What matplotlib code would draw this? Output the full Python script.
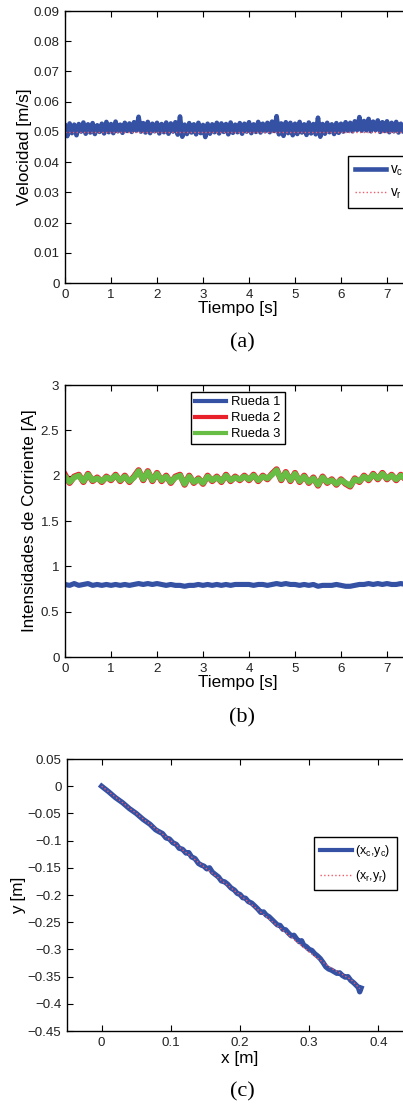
import matplotlib
matplotlib.use("Agg")
import matplotlib.pyplot as plt

plt.rcParams['font.family'] = ['Liberation Sans', 'DejaVu Sans']
plt.rcParams['mathtext.fontset'] = 'custom'
plt.rcParams['mathtext.rm'] = 'Liberation Sans'
plt.rcParams['mathtext.it'] = 'Liberation Sans'

# ---- (a) velocity ----
t_v = [i * 0.05 for i in range(151)]
v_c = [
    0.0521, 0.0486, 0.0528, 0.0496, 0.0524, 0.0489, 0.0526, 0.0501, 0.0531, 0.0494,
    0.0525, 0.0498, 0.0529, 0.0493, 0.0522, 0.0500, 0.0527, 0.0495, 0.0533, 0.0499,
    0.0526, 0.0496, 0.0534, 0.0502, 0.0524, 0.0497, 0.0530, 0.0503, 0.0528, 0.0500,
    0.0532, 0.0504, 0.0550, 0.0501, 0.0529, 0.0498, 0.0533, 0.0496, 0.0527, 0.0502,
    0.0530, 0.0495, 0.0526, 0.0499, 0.0531, 0.0494, 0.0528, 0.0501, 0.0532, 0.0491,
    0.0551, 0.0484, 0.0524, 0.0493, 0.0529, 0.0498, 0.0525, 0.0492, 0.0530, 0.0496,
    0.0523, 0.0483, 0.0527, 0.0494, 0.0525, 0.0499, 0.0530, 0.0495, 0.0528, 0.0500,
    0.0526, 0.0492, 0.0531, 0.0497, 0.0524, 0.0499, 0.0529, 0.0494, 0.0527, 0.0501,
    0.0532, 0.0496, 0.0525, 0.0500, 0.0533, 0.0498, 0.0527, 0.0502, 0.0530, 0.0499,
    0.0534, 0.0503, 0.0552, 0.0492, 0.0528, 0.0487, 0.0532, 0.0496, 0.0530, 0.0489,
    0.0527, 0.0493, 0.0533, 0.0498, 0.0525, 0.0490, 0.0531, 0.0495, 0.0526, 0.0492,
    0.0547, 0.0484, 0.0526, 0.0494, 0.0530, 0.0499, 0.0525, 0.0493, 0.0529, 0.0497,
    0.0527, 0.0501, 0.0532, 0.0504, 0.0530, 0.0502, 0.0535, 0.0506, 0.0549, 0.0504,
    0.0536, 0.0505, 0.0543, 0.0502, 0.0534, 0.0506, 0.0538, 0.0500, 0.0532, 0.0503,
    0.0535, 0.0499, 0.0530, 0.0502, 0.0533, 0.0498, 0.0527, 0.0501, 0.0531, 0.0496,
    0.0524,
]
t_ref = [0.0, 7.5]
v_r = [0.05, 0.05]

# ---- (b) wheel currents ----
t_i = [i * 0.1 for i in range(76)]
rueda1 = [
    0.80, 0.79, 0.81, 0.79, 0.80, 0.81, 0.79, 0.80, 0.79, 0.80,
    0.79, 0.80, 0.79, 0.80, 0.79, 0.80, 0.81, 0.80, 0.81, 0.80,
    0.81, 0.80, 0.79, 0.80, 0.79, 0.79, 0.78, 0.79, 0.79, 0.80,
    0.79, 0.80, 0.79, 0.80, 0.79, 0.80, 0.79, 0.80, 0.80, 0.80,
    0.80, 0.79, 0.80, 0.80, 0.79, 0.80, 0.81, 0.80, 0.81, 0.80,
    0.80, 0.79, 0.80, 0.79, 0.80, 0.78, 0.79, 0.79, 0.79, 0.80,
    0.79, 0.78, 0.78, 0.79, 0.80, 0.80, 0.81, 0.80, 0.81, 0.80,
    0.81, 0.80, 0.80, 0.81, 0.80, 0.80,
]
rueda2 = [
    2.01, 1.92, 1.99, 2.01, 1.93, 2.02, 1.94, 1.98, 1.93, 1.99,
    1.95, 2.01, 1.94, 2.00, 1.93, 1.99, 2.06, 1.95, 2.05, 1.94,
    2.03, 1.94, 2.00, 1.92, 1.99, 2.01, 1.90, 2.00, 1.92, 1.97,
    1.91, 2.00, 1.94, 1.99, 1.93, 2.01, 1.94, 1.99, 1.95, 2.00,
    1.95, 2.01, 1.94, 2.00, 1.96, 2.02, 2.07, 1.95, 2.04, 1.94,
    2.03, 1.93, 2.00, 1.92, 1.98, 1.89, 1.99, 1.92, 1.96, 1.90,
    1.96, 1.91, 1.88, 1.97, 1.93, 2.00, 1.95, 2.02, 1.96, 2.03,
    1.96, 2.01, 1.95, 2.01, 1.96, 2.00,
]
rueda3 = [
    1.99, 1.93, 1.98, 2.00, 1.94, 2.01, 1.95, 1.97, 1.94, 1.98,
    1.96, 2.00, 1.95, 1.99, 1.94, 1.98, 2.05, 1.96, 2.04, 1.95,
    2.02, 1.95, 1.99, 1.93, 1.98, 2.00, 1.91, 1.99, 1.93, 1.96,
    1.92, 1.99, 1.95, 1.98, 1.94, 2.00, 1.95, 1.98, 1.96, 1.99,
    1.96, 2.00, 1.95, 1.99, 1.97, 2.01, 2.06, 1.96, 2.03, 1.95,
    2.02, 1.94, 1.99, 1.93, 1.97, 1.90, 1.98, 1.93, 1.95, 1.91,
    1.95, 1.92, 1.89, 1.96, 1.94, 1.99, 1.96, 2.01, 1.97, 2.02,
    1.97, 2.00, 1.96, 2.00, 1.97, 1.99,
]

# ---- (c) trajectory ----
x_c = [0.000, 0.010, 0.020, 0.030, 0.040, 0.050, 0.060, 0.070, 0.078, 0.082,
       0.088, 0.093, 0.098, 0.103, 0.108, 0.112, 0.117, 0.122, 0.126, 0.130,
       0.135, 0.140, 0.144, 0.148, 0.152, 0.156, 0.160, 0.165, 0.169, 0.173,
       0.178, 0.182, 0.187, 0.192, 0.196, 0.200, 0.204, 0.208, 0.212, 0.217,
       0.222, 0.226, 0.230, 0.234, 0.238, 0.242, 0.246, 0.250, 0.254, 0.258,
       0.262, 0.266, 0.270, 0.274, 0.278, 0.282, 0.286, 0.289, 0.292, 0.296,
       0.300, 0.304, 0.308, 0.312, 0.316, 0.320, 0.324, 0.328, 0.332, 0.336,
       0.340, 0.344, 0.348, 0.352, 0.356, 0.360, 0.364, 0.368, 0.371, 0.373,
       0.375]
y_c = [0.000, -0.010, -0.021, -0.030, -0.041, -0.050, -0.061, -0.070, -0.080, -0.083,
       -0.087, -0.095, -0.097, -0.104, -0.107, -0.114, -0.116, -0.123, -0.122, -0.130,
       -0.133, -0.142, -0.145, -0.147, -0.152, -0.150, -0.158, -0.163, -0.167, -0.174,
       -0.176, -0.180, -0.187, -0.191, -0.197, -0.199, -0.205, -0.206, -0.212, -0.215,
       -0.221, -0.226, -0.232, -0.231, -0.237, -0.240, -0.245, -0.250, -0.255, -0.256,
       -0.263, -0.264, -0.270, -0.275, -0.274, -0.281, -0.286, -0.284, -0.292, -0.295,
       -0.300, -0.302, -0.308, -0.312, -0.317, -0.324, -0.332, -0.336, -0.338, -0.341,
       -0.344, -0.343, -0.348, -0.351, -0.350, -0.357, -0.361, -0.366, -0.370, -0.378,
       -0.371]
x_r = [0.0, 0.1, 0.2, 0.3, 0.33, 0.36, 0.373]
y_r = [0.0, -0.1, -0.2, -0.305, -0.333, -0.355, -0.372]

BLUE = '#3451a3'
RED = '#e8202a'
GREEN = '#68bd45'
REF = '#f05a6a'

W, H = 403, 1105
fig = plt.figure(figsize=(W / 100, H / 100), dpi=100)


def make_axes(left, top, right, bottom):
    ax = fig.add_axes([left / W, 1 - bottom / H, (right - left) / W, (bottom - top) / H])
    ax.tick_params(direction='in', top=True, right=True, labelsize=9.6,
                   length=4, width=0.8, pad=4, labelcolor='#222222')
    for s in ax.spines.values():
        s.set_linewidth(1.0)
    return ax


def style_legend(leg):
    fr = leg.get_frame()
    fr.set_edgecolor('black')
    fr.set_linewidth(1.0)


def sub(base, s):
    return base + r'$_\mathregular{' + s + '}$'


# (a)
ax1 = make_axes(65, 11, 410, 283)
ax1.plot(t_v, v_c, color=BLUE, lw=3.3, label=sub('v', 'c'))
ax1.plot(t_ref, v_r, color=REF, lw=1.0, ls=':', label=sub('v', 'r'))
ax1.set_xlim(0, 7.5)
ax1.set_ylim(0, 0.09)
ax1.set_xticks(range(0, 8))
ax1.set_yticks([0, 0.01, 0.02, 0.03, 0.04, 0.05, 0.06, 0.07, 0.08, 0.09])
ax1.set_yticklabels(['0', '0.01', '0.02', '0.03', '0.04', '0.05', '0.06', '0.07', '0.08', '0.09'])
ax1.set_xlabel('Tiempo [s]', fontsize=12.3, labelpad=0)
ax1.set_ylabel('Velocidad [m/s]', fontsize=12.3, labelpad=1)
leg = ax1.legend(loc='upper left', bbox_to_anchor=(0.820, 0.467), fontsize=9.8,
                 fancybox=False, framealpha=1, handlelength=2.3, borderpad=0.5,
                 labelspacing=0.55, handletextpad=0.3, borderaxespad=0)
style_legend(leg)

# (b)
ax2 = make_axes(65, 385, 410, 657)
ax2.plot(t_i, rueda1, color=BLUE, lw=3.7, label='Rueda 1')
ax2.plot(t_i, rueda2, color=RED, lw=4.4, label='Rueda 2')
ax2.plot(t_i, rueda3, color=GREEN, lw=4.2, label='Rueda 3')
ax2.set_xlim(0, 7.5)
ax2.set_ylim(0, 3)
ax2.set_xticks(range(0, 8))
ax2.set_yticks([0, 0.5, 1, 1.5, 2, 2.5, 3])
ax2.set_yticklabels(['0', '0.5', '1', '1.5', '2', '2.5', '3'])
ax2.set_xlabel('Tiempo [s]', fontsize=12.3, labelpad=0)
ax2.set_ylabel('Intensidades de Corriente [A]', fontsize=12.3, labelpad=3)
leg = ax2.legend(loc='upper left', bbox_to_anchor=(0.365, 0.974), fontsize=9.4,
                 fancybox=False, framealpha=1, handlelength=2.4, borderpad=0.3,
                 labelspacing=0.3, handletextpad=0.4, borderaxespad=0)
for ln in leg.get_lines():
    ln.set_linewidth(3.0)
style_legend(leg)

# (c)
ax3 = make_axes(67, 759, 413, 1031)
ax3.plot(x_c, y_c, color=BLUE, lw=3.8, label='(' + sub('x', 'c') + ',' + sub('y', 'c') + ')')
ax3.plot(x_r, y_r, color=REF, lw=1.0, ls=':', label='(' + sub('x', 'r') + ',' + sub('y', 'r') + ')')
ax3.set_xlim(-0.05, 0.45)
ax3.set_ylim(-0.45, 0.05)
ax3.set_xticks([0, 0.1, 0.2, 0.3, 0.4])
ax3.set_xticklabels(['0', '0.1', '0.2', '0.3', '0.4'])
ax3.set_yticks([-0.45, -0.4, -0.35, -0.3, -0.25, -0.2, -0.15, -0.1, -0.05, 0, 0.05])
ax3.set_yticklabels(['\u22120.45', '\u22120.4', '\u22120.35', '\u22120.3', '\u22120.25',
                     '\u22120.2', '\u22120.15', '\u22120.1', '\u22120.05', '0', '0.05'])
ax3.set_xlabel('x [m]', fontsize=12.3, labelpad=2)
ax3.set_ylabel('y [m]', fontsize=12.3, labelpad=1)
leg = ax3.legend(loc='upper left', bbox_to_anchor=(0.714, 0.713), fontsize=9.0,
                 fancybox=False, framealpha=1, handlelength=2.5, borderpad=0.5,
                 labelspacing=0.7, handletextpad=0.3, borderaxespad=0)
for ln in leg.get_lines():
    ln.set_linewidth(ln.get_linewidth() if ln.get_linestyle() == ':' else 3.0)
style_legend(leg)

# captions
cap = dict(fontsize=16, family='Liberation Serif', ha='center', va='center')
fig.text(242 / W, 1 - 343 / H, '(a)', **cap)
fig.text(242 / W, 1 - 718 / H, '(b)', **cap)
fig.text(242 / W, 1 - 1092 / H, '(c)', **cap)

fig.savefig('out.png', dpi=100)
